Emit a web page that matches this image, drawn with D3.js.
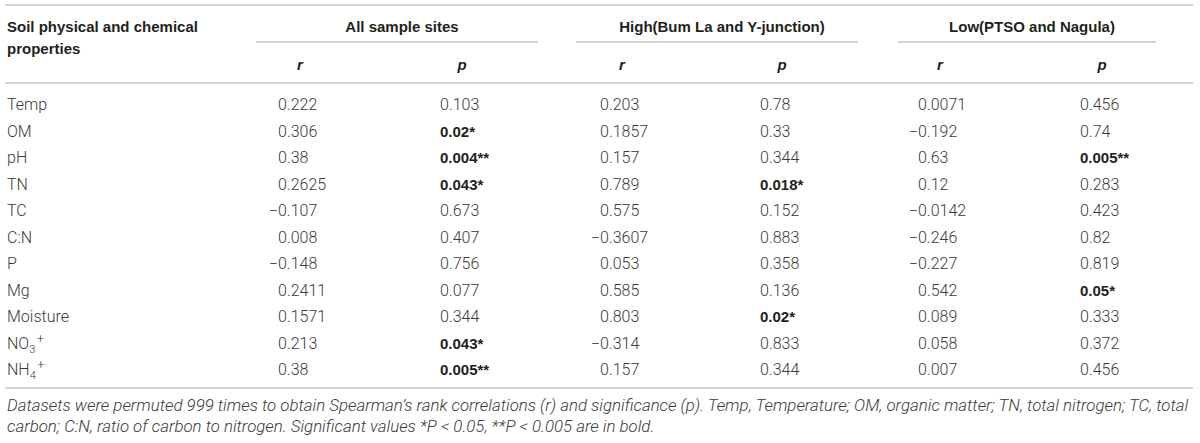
<!DOCTYPE html>
<html>
<head>
<meta charset="utf-8">
<script src="https://cdn.jsdelivr.net/npm/d3@7"></script>
<style>
  html, body { margin: 0; padding: 0; background: #fff; }
  svg { display: block; }
  .hdr { font-family: "Liberation Sans", Arial, sans-serif; font-weight: 700; fill: #231f20; font-size: 15px; }
  .body { font-family: Roboto, "Liberation Sans", sans-serif; font-weight: 300; fill: #3a3a3a; font-size: 16px; }
  .sig { font-family: "Liberation Sans", Arial, sans-serif; font-weight: 700; fill: #231f20; font-size: 15px; }
  .foot { font-family: Roboto, "Liberation Sans", sans-serif; font-weight: 300; font-style: italic; fill: #3a3a3a; font-size: 14.6px; }
</style>
</head>
<body>
<svg id="chart" width="1200" height="443"></svg>
<script>
// ---------------- data ----------------
const properties = ["Temp", "OM", "pH", "TN", "TC", "C:N", "P", "Mg", "Moisture", "NO3+", "NH4+"];
const groups = ["All sample sites", "High(Bum La and Y-junction)", "Low(PTSO and Nagula)"];
const subHeaders = ["r", "p"];

const allR  = [0.222, 0.306, 0.38, 0.2625, -0.107, 0.008, -0.148, 0.2411, 0.1571, 0.213, 0.38];
const allP  = [0.103, 0.02, 0.004, 0.043, 0.673, 0.407, 0.756, 0.077, 0.344, 0.043, 0.005];
const allSig = ["", "*", "**", "*", "", "", "", "", "", "*", "**"];

const highR = [0.203, 0.1857, 0.157, 0.789, 0.575, -0.3607, 0.053, 0.585, 0.803, -0.314, 0.157];
const highP = [0.78, 0.33, 0.344, 0.018, 0.152, 0.883, 0.358, 0.136, 0.02, 0.833, 0.344];
const highSig = ["", "", "", "*", "", "", "", "", "*", "", ""];

const lowR  = [0.0071, -0.192, 0.63, 0.12, -0.0142, -0.246, -0.227, 0.542, 0.089, 0.058, 0.007];
const lowP  = [0.456, 0.74, 0.005, 0.283, 0.423, 0.82, 0.819, 0.05, 0.333, 0.372, 0.456];
const lowSig = ["", "", "**", "", "", "", "", "*", "", "", ""];

const footnote = [
  "Datasets were permuted 999 times to obtain Spearman\u2019s rank correlations (r) and significance (p). Temp, Temperature; OM, organic matter; TN, total nitrogen; TC, total",
  "carbon; C:N, ratio of carbon to nitrogen. Significant values *P < 0.05, **P < 0.005 are in bold."
];

// ---------------- layout ----------------
const svg = d3.select("#chart");
const tableLeft = 5, tableRight = 1193;
const lineColor = "#d4d4d4";

const columns = [
  { key: "allR",  vals: allR,  sig: null },
  { key: "allP",  vals: allP,  sig: allSig },
  { key: "highR", vals: highR, sig: null },
  { key: "highP", vals: highP, sig: highSig },
  { key: "lowR",  vals: lowR,  sig: null },
  { key: "lowP",  vals: lowP,  sig: lowSig }
];
const x = d3.scaleOrdinal()
  .domain(columns.map(c => c.key))
  .range([278, 440, 600, 760, 918, 1080]);
const headerOffset = 22;

const groupSpan = d3.scaleOrdinal()
  .domain(groups)
  .range([[256, 538], [576, 858], [898, 1156]]);

const y = d3.scalePoint().domain(properties).range([110, 375]);

function hline(x1, x2, yy) {
  svg.append("line").attr("x1", x1).attr("x2", x2).attr("y1", yy).attr("y2", yy)
    .attr("stroke", lineColor).attr("stroke-width", 2);
}

// rules
hline(tableLeft, tableRight, 5);
hline(tableLeft, tableRight, 83);
hline(tableLeft, tableRight, 388);

// header labels
svg.append("text").attr("class", "hdr").attr("x", 7).attr("y", 32).text("Soil physical and chemical");
svg.append("text").attr("class", "hdr").attr("x", 7).attr("y", 54).text("properties");

groups.forEach(g => {
  const [a, b] = groupSpan(g);
  svg.append("text").attr("class", "hdr").attr("x", (a + b) / 2 + 5).attr("y", 32)
    .attr("text-anchor", "middle").text(g);
  hline(a, b, 42);
});

columns.forEach((c, i) => {
  svg.append("text").attr("class", "hdr").attr("x", x(c.key) + headerOffset).attr("y", 70)
    .attr("text-anchor", "middle").attr("font-style", "italic").text(subHeaders[i % 2]);
});

// row labels with chemistry sub/superscripts
properties.forEach(p => {
  const t = svg.append("text").attr("class", "body").attr("x", 7).attr("y", y(p));
  const m = p.match(/^([A-Z]+)(\d)(\+)$/);
  if (m) {
    t.append("tspan").text(m[1]);
    t.append("tspan").attr("font-size", "11px").attr("dy", 4).text(m[2]);
    t.append("tspan").attr("font-size", "13px").attr("dx", 1.5).attr("dy", -10).text(m[3]);
  } else {
    t.text(p);
  }
});

// measure minus width so negative numbers hang their sign
const probe = svg.append("text").attr("class", "body").text("\u2212");
const minusW = probe.node().getComputedTextLength();
probe.remove();

function fmt(v) { return String(v).replace("-", "\u2212"); }

columns.forEach(c => {
  properties.forEach((p, i) => {
    const v = c.vals[i];
    const s = c.sig ? c.sig[i] : "";
    svg.append("text")
      .attr("class", s ? "sig" : "body")
      .attr("x", x(c.key) - (v < 0 ? minusW : 0))
      .attr("y", y(p))
      .text(fmt(v) + s);
  });
});

// footnote: size the font so the first line spans the table width
const footTexts = footnote.map((line, i) =>
  svg.append("text").attr("class", "foot").attr("x", 7).attr("y", 411 + i * 21).text(line));
const baseLen = footTexts[0].node().getComputedTextLength();
const fs = 14.6 * (1181 / baseLen);
footTexts.forEach(t => t.style("font-size", fs + "px"));
</script>
</body>
</html>
